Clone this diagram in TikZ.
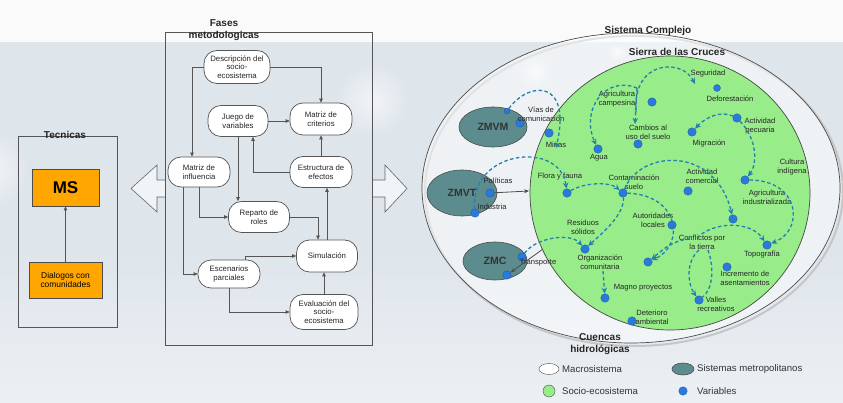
\documentclass[tikz,border=0pt]{standalone}
\usepackage{fontspec}
\setmainfont{Liberation Sans}
\usetikzlibrary{arrows.meta,shapes.geometric}

\definecolor{bgmain}{RGB}{222,229,235}
\definecolor{bglow}{RGB}{236,240,244}
\definecolor{bgtop}{RGB}{250,250,250}
\definecolor{tealm}{RGB}{92,140,142}
\definecolor{socio}{RGB}{152,236,138}
\definecolor{orangebox}{RGB}{255,166,0}
\definecolor{varblue}{RGB}{42,122,222}
\definecolor{dashblue}{RGB}{38,128,172}
\definecolor{linegray}{RGB}{85,85,85}

\tikzset{
  frame/.style={draw=linegray, line width=0.8pt},
  ttl/.style={font=\bfseries\fontsize{10}{12}\selectfont, align=center, inner sep=0pt, text=black!85},
  fase/.style={draw=linegray, fill=white, rounded corners=13pt, line width=0.7pt,
    align=center, inner sep=0pt, font=\fontsize{7.8}{8.6}\selectfont, text=black!85},
  flow/.style={draw=linegray, line width=0.7pt, -{Triangle[length=4pt,width=3.5pt]}},
  tech/.style={draw=black!70, fill=orangebox, line width=0.6pt, align=center, inner sep=1pt},
  blockarrow/.style={draw=gray!80!black, fill=white, fill opacity=0.6, line width=0.6pt},
  metro/.style={ellipse, draw=black!70, fill=tealm, line width=0.6pt, inner sep=0pt,
    font=\bfseries\fontsize{10.5}{10.5}\selectfont, text=black!80},
  var/.style={circle, fill=varblue, draw=varblue!70!black, line width=0.3pt, minimum size=8.5pt, inner sep=0pt},
  lbl/.style={font=\fontsize{7.6}{8.6}\selectfont, align=center, inner sep=0pt, text=black!85},
  dsh/.style={draw=dashblue, line width=1.3pt, dash pattern=on 3.5pt off 2.5pt,
    -{Stealth[length=6pt,width=5.5pt]}},
  solidarr/.style={draw=gray!60!black, line width=0.8pt, -{Stealth[length=5pt,width=4pt]}},
  lgtxt/.style={font=\fontsize{9.6}{10.6}\selectfont, anchor=west, inner sep=0pt, text=black!80},
  bubble/.style={shading=radial, inner color=white, outer color=bgmain, opacity=0.6}
}

\begin{document}
\begin{tikzpicture}[x=1pt,y=-1pt]
\useasboundingbox (0,0) rectangle (843,403);

% ---------- background ----------
\fill[bgmain] (0,0) rectangle (843,403);
\shade[top color=bgmain, bottom color=bglow] (0,403) rectangle (843,250);
\fill[bgtop] (0,0) rectangle (843,42);
\shade[bubble] (372,100) circle (38);
\shade[bubble] (535,72) circle (18);
\shade[bubble] (617,52) circle (10);
\shade[bubble] (-10,170) circle (40);

% ---------- Tecnicas ----------
\draw[frame] (18,136) rectangle (117,327);
\node[ttl] (tecT) at (65,135) {Tecnicas};
\node[tech, minimum width=67pt, minimum height=37pt, font=\bfseries\fontsize{17}{17}\selectfont] (ms) at (65.5,187.5) {MS};
\node[tech, minimum width=73pt, minimum height=36pt, font=\fontsize{8.4}{9.8}\selectfont] (dial) at (65.5,280) {Dialogos con\\comunidades};
\draw[flow] (dial.north) -- (ms.south);

% ---------- block arrows ----------
\draw[blockarrow] (165,180) -- (157,180) -- (157,165) -- (131,188.5) -- (157,212) -- (157,197) -- (165,197);
\draw[blockarrow] (372,180) -- (385,180) -- (385,165) -- (407,188.5) -- (385,212) -- (385,197) -- (372,197);

% ---------- Fases metodologicas ----------
\draw[frame] (165,32) rectangle (372,345);
\node[ttl] (fasT) at (224,30) {Fases\\metodologicas};

\node[fase, minimum width=66pt, minimum height=33pt] (desc) at (237,67) {Descripción del\\socio-\\ecosistema};
\node[fase, minimum width=60pt, minimum height=31pt] (jv) at (238,121) {Juego de\\variables};
\node[fase, minimum width=62pt, minimum height=32pt] (mc) at (321,119) {Matriz de\\criterios};
\node[fase, minimum width=62pt, minimum height=30pt] (mi) at (199,172) {Matriz de\\influencia};
\node[fase, minimum width=62pt, minimum height=31pt] (ee) at (321,172) {Estructura de\\efectos};
\node[fase, minimum width=61pt, minimum height=31pt] (rr) at (259,217) {Reparto de\\roles};
\node[fase, minimum width=61pt, minimum height=32pt] (sim) at (327,256) {Simulación};
\node[fase, minimum width=62pt, minimum height=28pt] (esc) at (229,274) {Escenarios\\parciales};
\node[fase, minimum width=68pt, minimum height=35pt] (ev) at (324,312) {Evaluación del\\socio-\\ecosistema};

\draw[flow] (desc.west) -| ([xshift=-7pt]mi.north);
\draw[flow] (desc.east) -| (mc.north);
\draw[flow] (jv.east) -- (jv.east -| mc.west);
\draw[flow] (ee.north) -- (mc.south);
\draw[flow] (ee.west) -| ([xshift=15pt]jv.south);
\draw[flow] (jv.south) -- (jv.south |- rr.north);
\draw[flow] (mi.south) |- (rr.west);
\draw[flow] ([xshift=-16pt]mi.south) |- (esc.west);
\draw[flow] (rr.east) -| ([xshift=-9pt]sim.north);
\draw[flow] ([xshift=16pt]esc.north) |- (sim.west);
\draw[flow] (esc.south) |- (ev.west);
\draw[flow] (ev.north) -- (ev.north |- sim.south);
\draw[flow] (sim.north) -- (sim.north |- ee.south);

% ---------- Sistema complejo ----------
\draw[gray!45, line width=2pt] (634,191) ellipse [x radius=209, y radius=155];
\draw[fill=white, fill opacity=0.5, draw=gray!60!black, line width=0.7pt] (631,188) ellipse [x radius=209, y radius=155];
\node[ttl] (sisT) at (648,31) {Sistema Complejo};

\draw[fill=socio, draw=gray!55!black, line width=0.7pt] (670,193) ellipse [x radius=140, y radius=137];
\node[ttl] (sierraT) at (677,52) {Sierra de las Cruces};
\node[ttl] (cuencT) at (600,344) {Cuencas\\hidrológicas};

% metropolitan systems
\node[metro, minimum width=68pt, minimum height=40pt] (zmvm) at (493,127) {ZMVM};
\node[metro, minimum width=70pt, minimum height=46pt] (zmvt) at (462,193) {ZMVT};
\node[metro, minimum width=64pt, minimum height=38pt] (zmc) at (495,261) {ZMC};

% variables
\node[var, minimum size=6pt] (dZMVMa) at (507,111) {};
\node[var] (dZMVMb) at (520,123) {};
\node[var] (dMinas) at (549,133) {};
\node[var] (dAgua) at (598,149) {};
\node[var] (dAgric) at (652,102) {};
\node[var] (dCambios) at (638,144) {};
\node[var, minimum size=7pt] (dSeg) at (717,88) {};
\node[var] (dPecuaria) at (737,118) {};
\node[var] (dMigr) at (692,132) {};
\node[var] (dAgInd) at (745,180) {};
\node[var] (dComercial) at (688,191) {};
\node[var] (dCont) at (623,193) {};
\node[var] (dFlora) at (567,193) {};
\node[var] (dAutor) at (672,225) {};
\node[var] (dOrg) at (585,249) {};
\node[var] (dConfl) at (648,262) {};
\node[var] (dEfecto) at (733,219) {};
\node[var] (dTopo) at (767,245) {};
\node[var] (dIncr) at (727,267) {};
\node[var] (dValles) at (699,300) {};
\node[var] (dMagno) at (605,298) {};
\node[var] (dDeter) at (632,321) {};
\node[var] (dPolit) at (490,193) {};
\node[var] (dIndus) at (475,213) {};
\node[var] (dZMCa) at (522,257) {};
\node[var] (dZMCb) at (507,275) {};

% variable labels
\node[lbl] (tVias) at (541,114) {Vías de\\comunicación};
\node[lbl] (tMinas) at (556,145) {Minas};
\node[lbl] (tAgua) at (599,158) {Agua};
\node[lbl] (tAgric) at (617,99) {Agricultura\\campesina};
\node[lbl] (tCambios) at (648,132) {Cambios al\\uso del suelo};
\node[lbl] (tSeg) at (708,74) {Seguridad};
\node[lbl] (tDefor) at (730,99) {Deforestación};
\node[lbl] (tPec) at (760,126) {Actividad\\pecuaria};
\node[lbl] (tMigr) at (709,143) {Migración};
\node[lbl] (tCult) at (792,167) {Cultura\\indígena};
\node[lbl] (tAgInd) at (767,197) {Agricultura\\industrializada};
\node[lbl] (tCom) at (702,176) {Actividad\\comercial};
\node[lbl] (tCont) at (634,182) {Contaminación\\suelo};
\node[lbl] (tFlora) at (560,177) {Flora y fauna};
\node[lbl] (tAutor) at (653,220) {Autoridades\\locales};
\node[lbl] (tResid) at (583,227) {Residuos\\sólidos};
\node[lbl] (tOrg) at (600,262) {Organización\\comunitaria};
\node[lbl] (tConfl) at (702,242) {Conflictos por\\la tierra};
\node[lbl] (tTopo) at (762,254) {Topografía};
\node[lbl] (tIncr) at (745,278) {Incremento de\\asentamientos};
\node[lbl] (tValles) at (716,304) {Valles\\recreativos};
\node[lbl] (tMagno) at (643,288) {Magno proyectos};
\node[lbl] (tDeter) at (652,317) {Deterioro\\ambiental};
\node[lbl] (tTransp) at (538,263) {Transporte};
\node[lbl] (tPolit) at (498,181) {Políticas};
\node[lbl] (tIndus) at (492,207) {Industria};

% free ends of the influence arcs
\coordinate (pMinas) at (556,148);
\coordinate (pAgTop) at (637,88);
\coordinate (pCambios) at (635,124);
\coordinate (pSegFrom) at (636,112);
\coordinate (pSeg) at (695,84);
\coordinate (pConflA) at (699,250);
\coordinate (pConflB) at (708,250);
\coordinate (pConflC) at (697,238);
\coordinate (pConflD) at (690,239);
\coordinate (pOrgBelow) at (603,271);
\coordinate (gEdgeT) at (529,191);
\coordinate (gEdgeC) at (543,249);

% influence arcs
\draw[dsh] (dZMVMa) .. controls (530,80) and (572,80) .. (pMinas);
\draw[dsh] (pAgTop) .. controls (605,75) and (580,110) .. (dAgua);
\draw[dsh] (pAgTop) -- (pCambios);
\draw[dsh] (pSegFrom) .. controls (632,60) and (682,58) .. (pSeg);
\draw[dsh] (dPecuaria) .. controls (720,110) and (705,118) .. (dMigr);
\draw[dsh] (dPecuaria) .. controls (758,140) and (757,165) .. (dAgInd);
\draw[dsh] (dIndus) .. controls (470,150) and (560,140) .. (dFlora);
\draw[dsh] (dFlora) .. controls (585,182) and (610,182) .. (dCont);
\draw[dsh] (dCont) .. controls (625,215) and (600,235) .. (dOrg);
\draw[dsh] (dZMCa) .. controls (535,238) and (570,232) .. (dOrg);
\draw[dsh] (dCont) .. controls (680,195) and (685,245) .. (dConfl);
\draw[dsh] (dCont) .. controls (640,150) and (715,145) .. (dEfecto);
\draw[dsh] (pConflA) .. controls (685,262) and (688,285) .. (dValles);
\draw[dsh, -] (pConflB) .. controls (715,270) and (712,290) .. (dValles);
\draw[dsh] (pConflC) .. controls (712,222) and (750,220) .. (dTopo);
\draw[dsh] (dAgInd) .. controls (800,180) and (805,230) .. (dTopo);
\draw[dsh] (pConflD) .. controls (672,240) and (660,252) .. (dConfl);
\draw[dsh] (pOrgBelow) -- (dMagno);

% links between metropolitan systems and the socio-ecosystem
\draw[solidarr] (dPolit) -- (gEdgeT);
\draw[solidarr] (gEdgeC) -- (dZMCb);

% ---------- legend ----------
\node[ellipse, draw=gray!60!black, fill=white, minimum width=20pt, minimum height=11pt, inner sep=0pt] (lgMacro) at (549,369) {};
\node[lgtxt] (lgMacroT) at (562,369) {Macrosistema};
\node[metro, minimum width=22pt, minimum height=12pt] (lgMetro) at (683,369) {};
\node[lgtxt] (lgMetroT) at (697,369) {Sistemas metropolitanos};
\node[circle, draw=gray!60!black, fill=socio, minimum size=12pt, inner sep=0pt] (lgSocio) at (549,391) {};
\node[lgtxt] (lgSocioT) at (562,391) {Socio-ecosistema};
\node[var] (lgVar) at (683,391) {};
\node[lgtxt] (lgVarT) at (697,391) {Variables};
\end{tikzpicture}
\end{document}
